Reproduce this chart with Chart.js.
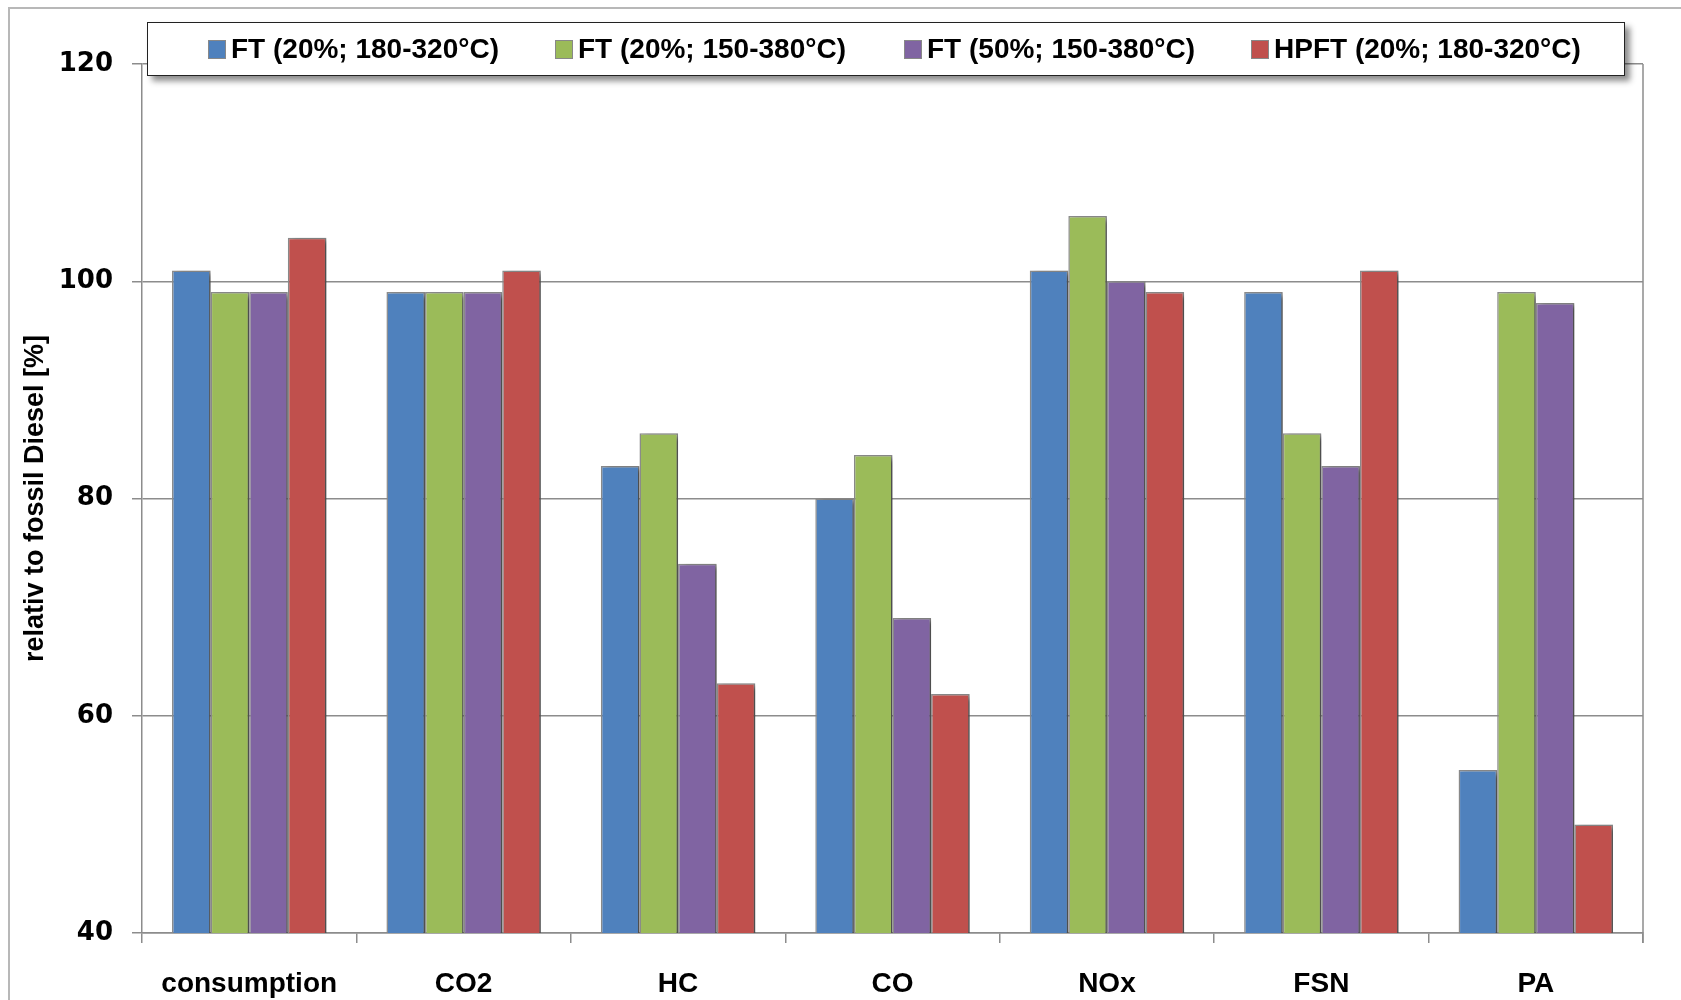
<!DOCTYPE html>
<html>
<head>
<meta charset="utf-8">
<script src="https://cdn.jsdelivr.net/npm/chart.js@4.4.1/dist/chart.umd.min.js"></script>
<style>
  body { margin: 0; background: #fff; }
  #wrap { position: relative; width: 1681px; height: 1000px; overflow: hidden; }
  #legend {
    position: absolute; left: 147px; top: 22px; width: 1476px; height: 52px;
    background: #fff; border: 1.5px solid #222; box-shadow: 5px 5px 6px rgba(0,0,0,0.45);
    font: bold 28px 'Liberation Sans', Arial, sans-serif; color: #000;
  }
  #legend .item { position: absolute; top: 0; height: 52px; display: flex; align-items: center; white-space: nowrap; }
  #legend .sw { width: 16px; height: 17px; border: 1px solid #888; margin-right: 5px; }
</style>
</head>
<body>
<div id="wrap">
  <canvas id="chart" width="1681" height="1000"></canvas>
  <div id="legend"></div>
</div>
<script>
'use strict'

const categories = ['consumption', 'CO2', 'HC', 'CO', 'NOx', 'FSN', 'PA']
const seriesLabels = [
  'FT (20%; 180-320°C)',
  'FT (20%; 150-380°C)',
  'FT (50%; 150-380°C)',
  'HPFT (20%; 180-320°C)'
]
const ft20a = [101, 99, 83, 80, 101, 99, 55]
const ft20b = [99, 99, 86, 84, 106, 86, 99]
const ft50 = [99, 99, 74, 69, 100, 83, 98]
const hpft20 = [104, 101, 63, 62, 99, 101, 50]
const yTicks = [40, 60, 80, 100, 120]
const yTitle = 'relativ to fossil Diesel [%]'

const colors = ['#4F81BD', '#9BBB59', '#8064A2', '#C0504D']
const seriesValues = [ft20a, ft20b, ft50, hpft20]

// legend sits over the top of the plot, like the original
const legendDiv = document.getElementById('legend')
const legendLeft = [60, 407, 756, 1103]
seriesLabels.forEach((label, i) => {
  legendDiv.innerHTML += `<div class="item" style="left:${legendLeft[i]}px">
    <div class="sw" style="background:${colors[i]}"></div>${label}</div>`
})

const framePlugin = {
  id: 'frame',
  beforeDraw: (chart) => {
    const ctx = chart.ctx
    ctx.save()
    ctx.fillStyle = '#fff'
    ctx.fillRect(0, 0, chart.width, chart.height)
    ctx.strokeStyle = '#b8b8b8'
    ctx.lineWidth = 2
    ctx.beginPath()
    ctx.moveTo(9, 1000)
    ctx.lineTo(9, 8)
    ctx.lineTo(1681, 8)
    ctx.stroke()
    ctx.restore()
  },
  beforeDatasetsDraw: (chart) => {
    const ctx = chart.ctx
    ctx.save()
    ctx.shadowColor = 'rgba(0,0,0,0.45)'
    ctx.shadowOffsetX = 5
    ctx.shadowOffsetY = 2
    ctx.shadowBlur = 5
  },
  afterDatasetsDraw: (chart) => {
    chart.ctx.restore()
    const a = chart.chartArea
    const ctx = chart.ctx
    ctx.save()
    ctx.strokeStyle = '#8c8c8c'
    ctx.lineWidth = 1.5
    ctx.beginPath()
    ctx.moveTo(a.right, a.top)
    ctx.lineTo(a.right, a.bottom + 10)
    ctx.stroke()
    ctx.restore()
  }
}

new Chart(document.getElementById('chart'), {
  type: 'bar',
  data: {
    labels: categories,
    datasets: seriesValues.map((vals, i) => ({
      label: seriesLabels[i],
      data: vals,
      backgroundColor: colors[i],
      borderColor: '#8a8a8a',
      borderWidth: 1.5,
      categoryPercentage: 0.72,
      barPercentage: 1
    }))
  },
  options: {
    responsive: false,
    animation: false,
    layout: { padding: { left: 0, top: 64, right: 38, bottom: 0 } },
    plugins: { legend: { display: false }, tooltip: { enabled: false } },
    scales: {
      x: {
        afterFit: (scale) => { scale.height = 67 },
        grid: { drawOnChartArea: false, drawTicks: true, tickLength: 10, color: '#8c8c8c', lineWidth: 1.5 },
        border: { color: '#8c8c8c', width: 1.5 },
        ticks: {
          color: '#000',
          padding: 24,
          font: { family: "'Liberation Sans', sans-serif", weight: 'bold', size: 28 }
        }
      },
      y: {
        min: yTicks[0],
        max: yTicks[yTicks.length - 1],
        afterFit: (scale) => { scale.width = 142 },
        afterBuildTicks: (scale) => { scale.ticks = yTicks.map(v => ({ value: v })) },
        grid: { color: '#8c8c8c', lineWidth: 1.5, tickLength: 10 },
        border: { color: '#8c8c8c', width: 1.5 },
        ticks: {
          color: '#000',
          padding: 19,
          font: { family: "'DejaVu Sans'", weight: 'bold', size: 26 }
        },
        title: {
          display: true,
          text: yTitle,
          color: '#000',
          padding: { top: 19, bottom: 0 },
          font: { family: "'Liberation Sans'", weight: 'bold', size: 27 }
        }
      }
    }
  },
  plugins: [framePlugin]
})
</script>
</body>
</html>
